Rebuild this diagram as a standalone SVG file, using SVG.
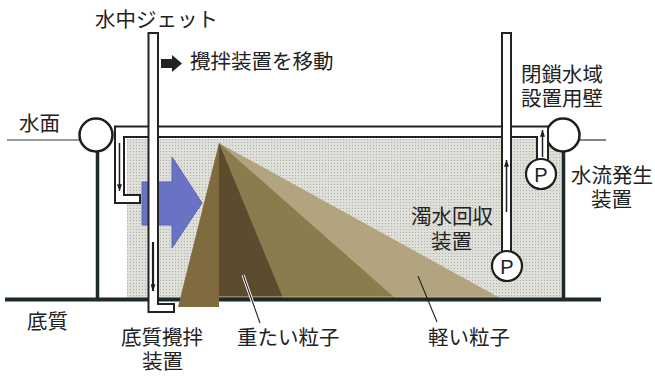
<svg xmlns="http://www.w3.org/2000/svg" width="655" height="376" viewBox="0 0 655 376">
  <defs>
    <pattern id="stipple" width="3" height="3" patternUnits="userSpaceOnUse">
      <rect width="3" height="3" fill="#dedfd8"/>
      <rect x="1" y="1" width="1" height="1" fill="#aeafa6"/>
    </pattern>
    <marker id="head" viewBox="0 0 8 6" refX="8" refY="3" markerWidth="7" markerHeight="5" markerUnits="userSpaceOnUse" orient="auto">
      <path d="M0,0 L8,3 L0,6 Z" fill="#1e1e1e"/>
    </marker>
  </defs>
  <style>
    .lbl { font-family: "Liberation Sans", "Noto Sans CJK JP", sans-serif; font-size: 20.5px; fill: #222; }
    .pipe { fill: #fff; stroke: #222; stroke-width: 2; }
    .ring { fill: #fff; stroke: #1e1e1e; stroke-width: 2.5; }
    .post { stroke: #1c2a2a; stroke-width: 3.5; fill: none; }
    .thin { stroke: #333; stroke-width: 1.2; fill: none; }
    .flow { stroke: #1e1e1e; stroke-width: 1.5; fill: none; marker-end: url(#head); }
    .pump { fill: #fff; stroke: #1e1e1e; stroke-width: 2.2; }
    .ptxt { font-family: "Liberation Sans", Arial, sans-serif; font-size: 20px; fill: #222; }
  </style>

  <rect width="655" height="376" fill="#fff"/>

  <!-- water body -->
  <g id="water">
    <rect x="127" y="139" width="435" height="159" fill="url(#stipple)"/>
  </g>

  <!-- sediment fan spreading from the jet -->
  <g id="sediment">
    <polygon points="219,143 500,298 219,298" fill="#b2a47e"/>
    <polygon points="219,143 395,298 219,298" fill="#8b7c4d"/>
    <polygon points="219,143 283,298 219,298" fill="#5d4b30"/>
    <line x1="219" y1="297" x2="500" y2="297" stroke="#c9bb80" stroke-width="1"/>
  </g>

  <!-- bed, water surface and floats -->
  <g id="bed">
    <line x1="5" y1="299.5" x2="601" y2="299.5" stroke="#1c2a2a" stroke-width="4"/>
  </g>
  <!-- stirred-up part of the bed -->
  <g id="sediment-stirred">
    <polygon points="219,143 219,307 178,307" fill="#7f6b3d"/>
  </g>
  <g id="surface">
    <line class="thin" x1="7" y1="140" x2="80" y2="140"/>
    <line class="thin" x1="580" y1="140" x2="606" y2="140"/>
  </g>
  <g id="float-left">
    <line class="post" x1="97.5" y1="152" x2="97.5" y2="298"/>
    <circle class="ring" cx="96" cy="135" r="16.5"/>
  </g>
  <g id="float-right">
    <line class="post" x1="563.5" y1="152" x2="563.5" y2="298"/>
    <circle class="ring" cx="563" cy="135" r="16.5"/>
  </g>

  <!-- jet nozzle -->
  <g id="nozzle">
    <polygon points="142,182 172,182 172,157 202,203 172,248 172,225 142,225" fill="#6a72c4" stroke="#5b63b2" stroke-width="1"/>
  </g>

  <!-- supply pipe from the pump along the top -->
  <g id="supply-pipe">
    <path class="pipe" d="M548,126.5 L115,126.5 L115,203 L140,203 L140,195 L124,195 L124,137 L537,137 L537,160 L548,160 Z"/>
  </g>

  <!-- circulation pump -->
  <g id="pump-top">
    <circle class="pump" cx="541" cy="174" r="15"/>
    <text class="ptxt" x="541" y="181.5" text-anchor="middle">P</text>
  </g>

  <!-- turbid water recovery pipe / enclosure wall -->
  <g id="recovery-pipe">
    <rect class="pipe" x="502" y="33" width="9" height="220"/>
  </g>
  <g id="pump-bottom">
    <circle class="pump" cx="507" cy="266" r="15"/>
    <text class="ptxt" x="507" y="273.5" text-anchor="middle">P</text>
  </g>

  <!-- underwater jet stirrer -->
  <g id="jet-pipe">
    <path class="pipe" d="M148.5,33 L158,33 L158,304 L174,304 L174,312 L148.5,312 Z"/>
  </g>

  <!-- flow arrows and leader lines -->
  <g id="connectors">
    <line class="flow" x1="119.5" y1="143" x2="119.5" y2="191"/>
    <line class="flow" x1="153" y1="242" x2="153" y2="291" style="stroke-width:2.2"/>
    <line class="flow" x1="542.5" y1="157" x2="542.5" y2="130"/>
    <line class="flow" x1="506.5" y1="212" x2="506.5" y2="160"/>
    <line x1="243" y1="275" x2="260" y2="323" stroke="#fff" stroke-width="3"/>
    <line x1="243" y1="275" x2="260" y2="323" stroke="#222" stroke-width="1.1"/>
    <line x1="418" y1="276" x2="437" y2="322" stroke="#222" stroke-width="1.1"/>
  </g>

  <!-- move-direction marker -->
  <g id="move-arrow">
    <polygon points="161,59 172,59 172,55 182,63.5 172,72 172,68 161,68" fill="#222"/>
  </g>

  <!-- labels -->
  <g id="labels">
    <text class="lbl" x="95" y="27">水中ジェット</text>
    <text class="lbl" x="190" y="69">攪拌装置を移動</text>
    <text class="lbl" x="521" y="82">閉鎖水域</text>
    <text class="lbl" x="521" y="106">設置用壁</text>
    <text class="lbl" x="19" y="131">水面</text>
    <text class="lbl" x="571" y="183">水流発生</text>
    <text class="lbl" x="591" y="207">装置</text>
    <text class="lbl" x="411" y="224">濁水回収</text>
    <text class="lbl" x="431" y="249">装置</text>
    <text class="lbl" x="27" y="329">底質</text>
    <text class="lbl" x="121" y="345">底質攪拌</text>
    <text class="lbl" x="142" y="369">装置</text>
    <text class="lbl" x="237" y="345">重たい粒子</text>
    <text class="lbl" x="428" y="345">軽い粒子</text>
  </g>
</svg>
